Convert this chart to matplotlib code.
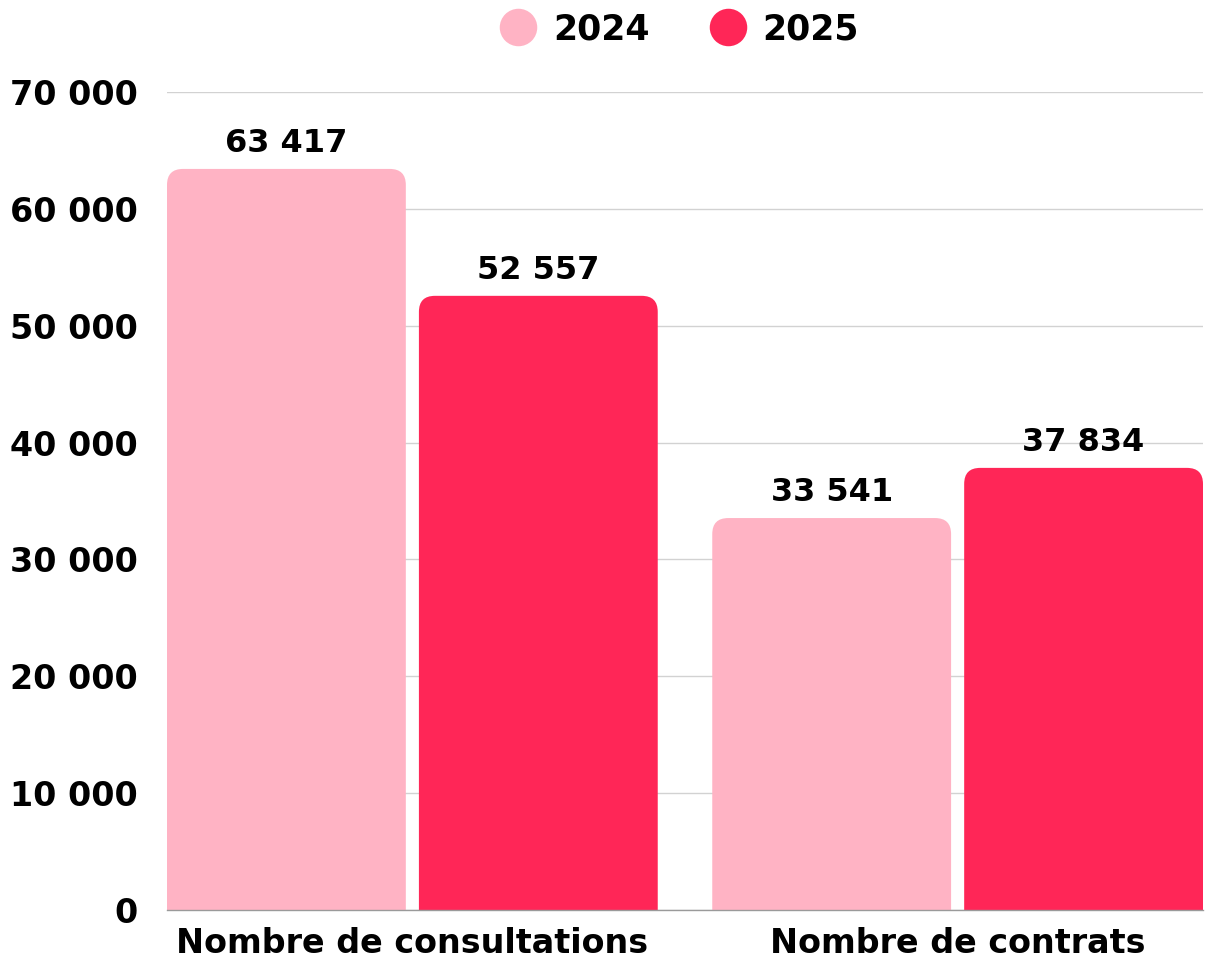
"""Consultations vs contrats, 2024 against 2025, grouped bars with rounded tops."""

import matplotlib

matplotlib.use("Agg")

import matplotlib.pyplot as plt
from matplotlib.lines import Line2D
from matplotlib.patches import FancyBboxPatch

categories = ["Nombre de consultations", "Nombre de contrats"]
years = ["2024", "2025"]
values_2024 = [63417, 33541]
values_2025 = [52557, 37834]
yticks = [0, 10000, 20000, 30000, 40000, 50000, 60000, 70000]

COLORS = {"2024": "#FFB3C4", "2025": "#FF2657"}
W, H, DPI = 1205, 961, 100


def fmt(v):
    return f"{v:,}".replace(",", " ")


plt.rcParams["font.family"] = ["DejaVu Sans"]
plt.rcParams["font.weight"] = "bold"

fig = plt.figure(figsize=(W / DPI, H / DPI), dpi=DPI)
ax = fig.add_axes([167 / W, 1 - 910 / H, (1203 - 167) / W, (910 - 92) / H])

xlim = (-0.45, 1.45)
ylim = (0, 70000)
ax.set_xlim(*xlim)
ax.set_ylim(*ylim)

# pixel scale so the corner radius is round on screen
ax_w_px = (1203 - 167)
ax_h_px = (910 - 92)
x_per_px = (xlim[1] - xlim[0]) / ax_w_px
y_per_px = (ylim[1] - ylim[0]) / ax_h_px
aspect = y_per_px / x_per_px
radius_px = 16
rx = radius_px * x_per_px
ry = radius_px * y_per_px

bar_w = 0.438
offset = 0.231

for i, cat in enumerate(categories):
    for year, vals, sign in (("2024", values_2024, -1), ("2025", values_2025, 1)):
        v = vals[i]
        x0 = i + sign * offset - bar_w / 2
        # start below zero so only the top corners show rounded
        patch = FancyBboxPatch(
            (x0, -3 * ry), bar_w, v + 3 * ry,
            boxstyle=f"round,pad=0,rounding_size={rx}",
            mutation_aspect=aspect,
            facecolor=COLORS[year], edgecolor="none", zorder=2,
        )
        ax.add_patch(patch)
        ax.annotate(fmt(v), (i + sign * offset, v), xytext=(0, 7),
                    textcoords="offset points", ha="center", va="bottom",
                    fontsize=23, fontweight="bold", color="black", zorder=3)

ax.set_yticks(yticks)
ax.set_yticklabels([fmt(t) for t in yticks])
ax.set_xticks(range(len(categories)))
ax.set_xticklabels(categories)
ax.tick_params(axis="y", length=0, pad=21, labelsize=24)
ax.tick_params(axis="x", length=0, pad=12, labelsize=24)

ax.grid(axis="y", color="#d2d2d2", linewidth=1.0, zorder=0)
ax.set_axisbelow(True)
for s in ("top", "right", "left"):
    ax.spines[s].set_visible(False)
ax.spines["bottom"].set_color("#9a9a9a")
ax.spines["bottom"].set_linewidth(1.0)
ax.spines["bottom"].set_zorder(4)

handles = [
    Line2D([], [], marker="o", linestyle="none", markersize=27,
           markerfacecolor=COLORS[y], markeredgecolor="none", label=y)
    for y in years
]
fig.legend(handles=handles, loc="center", bbox_to_anchor=(680 / W, 1 - 29 / H),
           ncol=2, frameon=False, fontsize=25, handlelength=1.0,
           handletextpad=0.5, columnspacing=1.75, borderpad=0)

fig.savefig("out.png", dpi=DPI)
